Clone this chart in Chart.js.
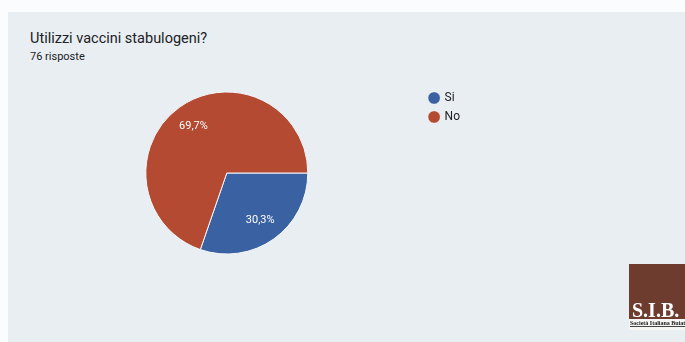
<!DOCTYPE html>
<html><head><meta charset="utf-8">
<script src="https://cdn.jsdelivr.net/npm/chart.js@4.4.1/dist/chart.umd.min.js"></script>
<style>
html,body{margin:0;padding:0;background:#fbfcfd;width:685px;height:342px;overflow:hidden;font-family:Roboto,"Noto Sans",sans-serif;}
#card{position:absolute;left:8px;top:12px;width:677px;height:330px;background:#e9eef3;}
#title{position:absolute;left:30px;top:30px;font-size:14.5px;color:#202124;white-space:nowrap;}
#sub{position:absolute;left:30px;top:50px;font-size:11px;color:#202124;white-space:nowrap;}
#wrap{position:absolute;left:0;top:0;width:685px;height:342px;}
#logo{position:absolute;left:629px;top:264px;width:60px;height:66px;background:#f6f6f4;}
#logo .b{position:absolute;left:0;top:0;width:60px;height:55px;background:#6e3b2f;}
#logo .t{position:absolute;left:3px;top:35px;font-family:"Liberation Serif",serif;font-weight:bold;font-size:20px;color:#fff;}
#logo .s{position:absolute;left:1px;top:56px;font-family:"Liberation Serif",serif;font-weight:bold;font-size:6px;color:#222;white-space:nowrap;border-bottom:1px solid #444;}
</style></head>
<body>
<div id="card"></div>
<div id="title">Utilizzi vaccini stabulogeni?</div>
<div id="sub">76 risposte</div>
<div id="wrap"><canvas id="c" width="685" height="342"></canvas></div>
<div id="logo"><div class="b"></div><div class="t">S.I.B.</div><div class="s">Società Italiana Buiatria</div></div>
<script>
const categories = ["Si", "No"];
const percentages = [30.3, 69.7];
const sliceColors = ["#3a62a3", "#b34a31"];

const pctLabels = {
  id: 'pctLabels',
  afterDatasetsDraw(chart) {
    const ctx = chart.ctx;
    const meta = chart.getDatasetMeta(0);
    ctx.save();
    ctx.font = '11px Roboto, "Noto Sans", sans-serif';
    ctx.fillStyle = '#ffffff';
    ctx.textAlign = 'center';
    ctx.textBaseline = 'middle';
    meta.data.forEach((arc, i) => {
      const mid = (arc.startAngle + arc.endAngle) / 2;
      const r = arc.outerRadius * 0.71;
      const x = arc.x + Math.cos(mid) * r;
      const y = arc.y + Math.sin(mid) * r;
      ctx.fillText(percentages[i].toFixed(1).replace('.', ',') + '%', x, y);
    });
    ctx.restore();
  }
};

new Chart(document.getElementById('c'), {
  type: 'pie',
  data: {
    labels: categories,
    datasets: [{
      data: percentages,
      backgroundColor: sliceColors,
      borderColor: '#f4f6f8',
      borderWidth: 1
    }]
  },
  options: {
    responsive: false,
    animation: false,
    rotation: 90,
    radius: 81,
    layout: { padding: { left: 31, right: 215, top: 85, bottom: 81 } },
    plugins: {
      tooltip: { enabled: false },
      legend: {
        position: 'right',
        align: 'start',
        labels: {
          usePointStyle: true,
          pointStyle: 'circle',
          boxWidth: 9,
          boxHeight: 9,
          padding: 7,
          color: '#202124',
          font: { size: 12, family: 'Roboto, "Noto Sans", sans-serif' }
        }
      }
    }
  },
  plugins: [pctLabels]
});
</script>
</body></html>
